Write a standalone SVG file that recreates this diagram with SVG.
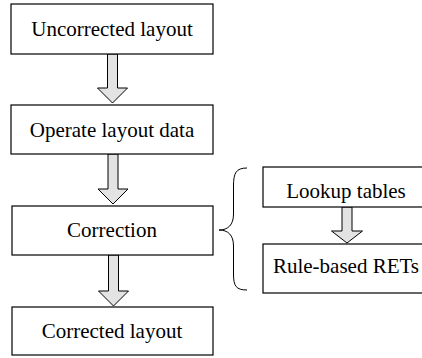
<svg xmlns="http://www.w3.org/2000/svg" width="422" height="358" viewBox="0 0 422 358">
<style>
.box{fill:#fff;stroke:#000;stroke-width:1.2}
.arr{fill:#e3e3e3;stroke:#000;stroke-width:1}
.t{font-family:'Liberation Serif','Times New Roman',serif;font-size:21px;fill:#000;text-anchor:middle}
</style>
<rect width="422" height="358" fill="#fff"/>
<g id="connectors">
<path class="arr" d="M107.5,54 V88 H97.5 L112.5,103 L127.5,88 H117.5 V54 Z"/>
<path class="arr" d="M108,154 V189 H98 L113,204 L128,189 H118 V154 Z"/>
<path class="arr" d="M108.5,255 V291 H98.5 L113.5,306 L128.5,291 H118.5 V255 Z"/>
<path class="arr" d="M342,207 V231 H331.5 L347,243 L362.5,231 H352 V207 Z"/>
<path d="M247,168 C236,168 233.5,173 233.5,186 V214 C233.5,225 228,230 219,230 C228,230 233.5,235 233.5,246 V274 C233.5,286 236,290 247,290" fill="none" stroke="#000" stroke-width="1"/>
</g>
<g id="n1"><rect class="box" x="11" y="4" width="202" height="50"/><text class="t" font-family="Liberation Serif, serif" x="112" y="36">Uncorrected layout</text></g>
<g id="n2"><rect class="box" x="11" y="105" width="202" height="49"/><text class="t" font-family="Liberation Serif, serif" x="112" y="137">Operate layout data</text></g>
<g id="n3"><rect class="box" x="12" y="206" width="201" height="49"/><text class="t" font-family="Liberation Serif, serif" x="112" y="237">Correction</text></g>
<g id="n4"><rect class="box" x="12" y="307" width="201" height="48"/><text class="t" font-family="Liberation Serif, serif" x="112" y="338">Corrected layout</text></g>
<g id="n5"><rect class="box" x="263" y="167" width="165" height="40"/><text class="t" font-family="Liberation Serif, serif" x="346" y="198">Lookup tables</text></g>
<g id="n6"><rect class="box" x="263" y="244" width="165" height="49"/><text class="t" font-family="Liberation Serif, serif" x="346" y="273">Rule-based RETs</text></g>
</svg>
